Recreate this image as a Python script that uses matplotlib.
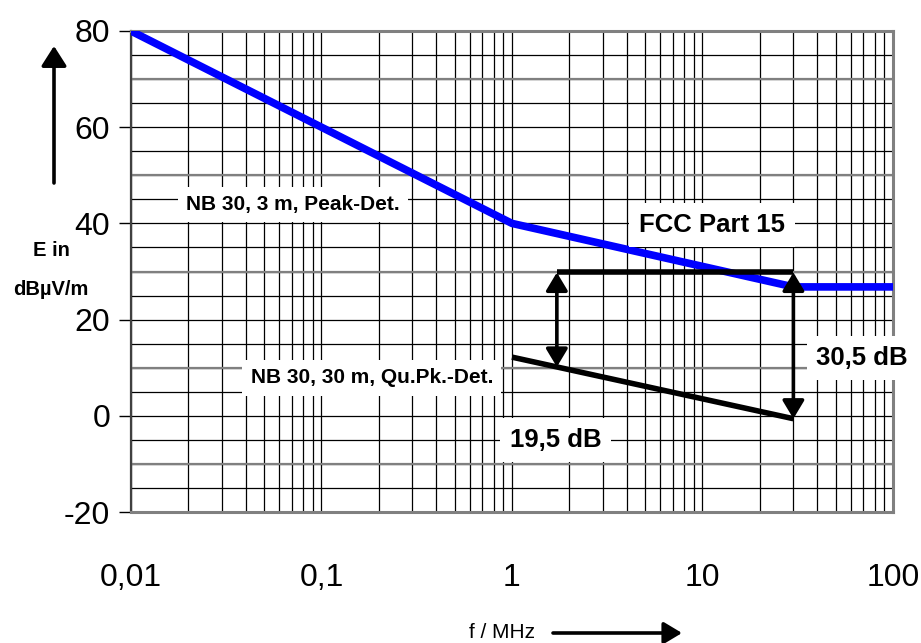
import matplotlib
matplotlib.use("Agg")
import matplotlib.pyplot as plt
from matplotlib.patches import FancyArrowPatch
from matplotlib.ticker import FixedLocator, NullFormatter

plt.rcParams["axes.unicode_minus"] = False

# Grenzwertkurve NB 30 (3 m, Peak) / FCC Part 15
limit_f = [0.01, 1, 30, 100]
limit_e = [80, 40, 26.8, 26.8]

# NB 30, 30 m, Quasi-Peak
qp_f = [1, 30]
qp_e = [12.2, -0.6]

# Bezugslinie für die Abstände
ref_f = [1.72, 30]
ref_e = [29.8, 29.8]

x_ticks = [0.01, 0.1, 1, 10, 100]
x_labels = ["0,01", "0,1", "1", "10", "100"]
y_ticks = [-20, 0, 20, 40, 60, 80]

FONT = ["Liberation Sans Narrow", "Liberation Sans", "DejaVu Sans"]
BOLD = ["Liberation Sans", "DejaVu Sans"]

fig = plt.figure(figsize=(9.21, 6.43), dpi=100)
fig.patch.set_facecolor("white")
ax = fig.add_axes([0.1422, 0.2037, 0.8274, 0.7481])
ax.set_xscale("log")
ax.set_xlim(0.01, 100)
ax.set_ylim(-20, 80)

# Gitter: Dekaden + 2..9, y alle 5 dB
minor_x = [m * 10.0 ** d for d in range(-2, 2) for m in range(2, 10)]
ax.xaxis.set_major_locator(FixedLocator(x_ticks))
ax.xaxis.set_minor_locator(FixedLocator(minor_x))
ax.xaxis.set_minor_formatter(NullFormatter())
ax.yaxis.set_major_locator(FixedLocator(y_ticks))
ax.yaxis.set_minor_locator(FixedLocator(list(range(-20, 81, 5))))
ax.grid(True, which="both", axis="x", color="black", linewidth=0.9)
ax.grid(True, which="both", axis="y", color="black", linewidth=0.9)
# jede zweite 10-dB-Linie etwas grauer
for yv in range(-10, 80, 20):
    ax.axhline(yv, color="#808080", linewidth=1.6, zorder=0.6)
ax.set_axisbelow(True)

ax.set_xticks(x_ticks)
ax.set_xticklabels(x_labels)
ax.tick_params(axis="x", which="both", length=0, pad=37, labelsize=23)
ax.tick_params(axis="y", which="major", length=9, width=1, pad=6, labelsize=23)
ax.tick_params(axis="y", which="minor", length=0)
for lab in ax.get_xticklabels() + ax.get_yticklabels():
    lab.set_family(FONT)
    lab.set_color("black")

for side in ["top", "right", "bottom"]:
    ax.spines[side].set_color("#808080")
    ax.spines[side].set_linewidth(2.2)
ax.spines["left"].set_color("#404040")
ax.spines["left"].set_linewidth(1.6)

# Kurven
ax.plot(limit_f, limit_e, color="#0000ff", linewidth=5.5, solid_capstyle="round", zorder=4)
ax.plot(qp_f, qp_e, color="black", linewidth=4, solid_capstyle="butt", zorder=5)
ax.plot(ref_f, ref_e, color="black", linewidth=4, solid_capstyle="butt", zorder=5)

arrow = dict(arrowstyle="<|-|>,head_length=0.5,head_width=0.3", color="black",
             lw=2.6, mutation_scale=22, shrinkA=0, shrinkB=0)
qp_at_ref = qp_e[0] + (qp_e[1] - qp_e[0]) * 0.2355 / 1.4771
ax.annotate("", xy=(ref_f[0], ref_e[0]), xytext=(ref_f[0], qp_at_ref),
            arrowprops=arrow, zorder=6)
ax.annotate("", xy=(ref_f[1], ref_e[1]), xytext=(ref_f[1], qp_e[1]),
            arrowprops=arrow, zorder=6)

small_box = dict(facecolor="white", edgecolor="none", pad=6)
big_box = dict(facecolor="white", edgecolor="none", pad=7)
ax.text(0.0195, 43.9, "NB 30, 3 m, Peak-Det.", fontsize=15, fontweight="bold",
        family=BOLD, ha="left", va="center", bbox=small_box, zorder=7)
ax.text(0.184, 7.9, "NB 30, 30 m, Qu.Pk.-Det.", fontsize=15, fontweight="bold",
        family=BOLD, ha="center", va="center", bbox=small_box, zorder=7)
ax.text(11.2, 39.7, "FCC Part 15", fontsize=18.5, fontweight="bold",
        family=BOLD, ha="center", va="center", bbox=big_box, zorder=7)
ax.text(69, 12.0, "30,5 dB", fontsize=18.5, fontweight="bold",
        family=BOLD, ha="center", va="center", bbox=big_box, zorder=7)
ax.text(1.69, -5.0, "19,5 dB", fontsize=18.5, fontweight="bold",
        family=BOLD, ha="center", va="center", bbox=big_box, zorder=7)

# Achsenbeschriftungen mit Pfeilen
fig.text(51 / 921, 1 - 250 / 643, "E in", fontsize=14.5, fontweight="bold",
         family=BOLD, ha="center", va="center")
fig.text(51 / 921, 1 - 290 / 643, "dBµV/m", fontsize=14.5, fontweight="bold",
         family=BOLD, ha="center", va="center")
fig.add_artist(FancyArrowPatch(
    (54 / 921, 1 - 183 / 643), (54 / 921, 1 - 46 / 643),
    transform=fig.transFigure, arrowstyle="-|>,head_length=0.55,head_width=0.35",
    mutation_scale=22, color="black", lw=2.6, shrinkA=0, shrinkB=0))

fig.text(502 / 921, 1 - 632 / 643, "f / MHz", fontsize=15, family=FONT,
         ha="center", va="center")
fig.add_artist(FancyArrowPatch(
    (553 / 921, 1 - 633 / 643), (682 / 921, 1 - 633 / 643),
    transform=fig.transFigure, arrowstyle="-|>,head_length=0.5,head_width=0.3",
    mutation_scale=22, color="black", lw=2.6, shrinkA=0, shrinkB=0))

fig.savefig("out.png", dpi=100, facecolor="white")
